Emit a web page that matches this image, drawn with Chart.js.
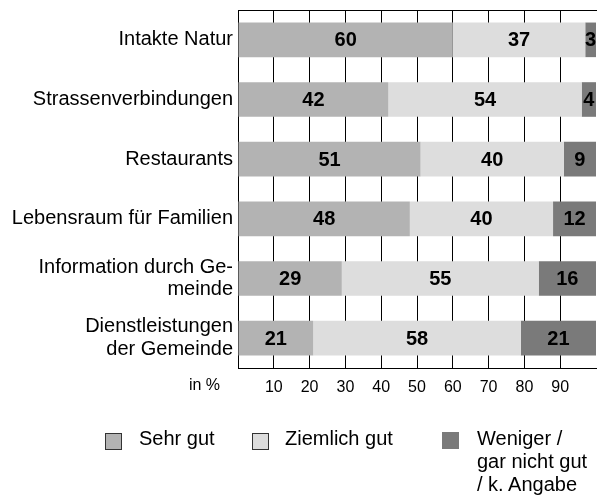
<!DOCTYPE html>
<html>
<head>
<meta charset="utf-8">
<script src="https://cdn.jsdelivr.net/npm/chart.js@4/dist/chart.umd.min.js"></script>
<style>
  html, body { margin: 0; padding: 0; background: #fff; }
  #wrap { position: relative; width: 602px; height: 495px; font-family: "Liberation Sans", Arial, sans-serif; color: #000; }
  #c { position: absolute; left: 0; top: 0; }
  .lg { position: absolute; font-size: 20px; line-height: 23px; }
  .box { position: absolute; width: 17px; height: 17px; box-sizing: border-box; }
</style>
</head>
<body>
<div id="wrap">
  <canvas id="c" width="602" height="495"></canvas>
  <div class="box" style="left:105px; top:433px; background:#b3b3b3; border:1px solid #333;"></div>
  <div class="lg" style="left:139px; top:427px;">Sehr gut</div>
  <div class="box" style="left:252px; top:433px; background:#dddddd; border:1px solid #333;"></div>
  <div class="lg" style="left:285px; top:427px;">Ziemlich gut</div>
  <div class="box" style="left:442px; top:432px; background:#7a7a7a;"></div>
  <div class="lg" style="left:477px; top:427px;">Weniger /<br>gar nicht gut<br>/ k. Angabe</div>
</div>
<script>
const categories = [
  'Intakte Natur',
  'Strassenverbindungen',
  'Restaurants',
  'Lebensraum für Familien',
  ['Information durch Ge-', 'meinde'],
  ['Dienstleistungen', 'der Gemeinde']
];
const seriesNames = ['Sehr gut', 'Ziemlich gut', 'Weniger / gar nicht gut / k. Angabe'];
const sehrGut = [60, 42, 51, 48, 29, 21];
const ziemlichGut = [37, 54, 40, 40, 55, 58];
const weniger = [3, 4, 9, 12, 16, 21];
const xTickLabels = ['10', '20', '30', '40', '50', '60', '70', '80', '90'];
const axisUnit = 'in %';

const FONT = '"Liberation Sans", Arial, sans-serif';

const frame = {
  id: 'frame',
  afterDraw(chart) {
    const { ctx, chartArea } = chart;
    ctx.save();
    ctx.strokeStyle = '#000';
    ctx.lineWidth = 1;
    ctx.beginPath();
    ctx.moveTo(chartArea.left, chartArea.top + 0.5);
    ctx.lineTo(chartArea.right + 1, chartArea.top + 0.5);
    ctx.stroke();
    // unit label
    ctx.fillStyle = '#000';
    ctx.font = '16px ' + FONT;
    ctx.textAlign = 'right';
    ctx.textBaseline = 'middle';
    ctx.fillText(axisUnit, 220, chartArea.bottom + 18);
    // value labels
    ctx.font = 'bold 20px ' + FONT;
    ctx.textAlign = 'center';
    ctx.textBaseline = 'middle';
    chart.data.datasets.forEach((ds, di) => {
      const meta = chart.getDatasetMeta(di);
      meta.data.forEach((bar, i) => {
        const cx = (bar.x + bar.base) / 2;
        ctx.fillText(String(ds.data[i]), cx, bar.y + 1);
      });
    });
    ctx.restore();
  }
};

new Chart(document.getElementById('c'), {
  type: 'bar',
  data: {
    labels: categories,
    datasets: [
      { label: seriesNames[0], data: sehrGut, backgroundColor: '#b3b3b3' },
      { label: seriesNames[1], data: ziemlichGut, backgroundColor: '#dddddd' },
      { label: seriesNames[2], data: weniger, backgroundColor: '#7a7a7a' }
    ]
  },
  options: {
    indexAxis: 'y',
    responsive: false,
    animation: false,
    layout: { padding: { top: 10, right: 6, bottom: 103, left: 0 } },
    datasets: { bar: { categoryPercentage: 1, barPercentage: 0.58 } },
    plugins: { legend: { display: false }, tooltip: { enabled: false } },
    scales: {
      x: {
        stacked: true,
        min: 0, max: 100,
        afterBuildTicks(s) { s.ticks = [0,10,20,30,40,50,60,70,80,90,100].map(v => ({ value: v })); },
        afterFit(s) { s.height = 24; s.paddingLeft = 0; s.paddingRight = 0; },
        border: { display: true, color: '#000', width: 1 },
        grid: {
          drawTicks: false,
          color: (c) => (c.tick && c.tick.value === 100) ? 'rgba(0,0,0,0)' : '#000',
          lineWidth: 1
        },
        ticks: {
          padding: 10,
          color: '#000',
          font: { family: FONT, size: 16 },
          maxRotation: 0,
          autoSkip: false,
          callback: (v) => { const i = xTickLabels.indexOf(String(v)); return i >= 0 ? xTickLabels[i] : ''; }
        }
      },
      y: {
        stacked: true,
        afterFit(s) { s.width = 238; s.paddingTop = 0; s.paddingBottom = 0; },
        border: { display: true, color: '#000', width: 1 },
        grid: { display: false, drawTicks: false },
        ticks: {
          padding: 5,
          color: '#000',
          font: { family: FONT, size: 20, lineHeight: 1.12 }
        }
      }
    }
  },
  plugins: [frame]
});
</script>
</body>
</html>
